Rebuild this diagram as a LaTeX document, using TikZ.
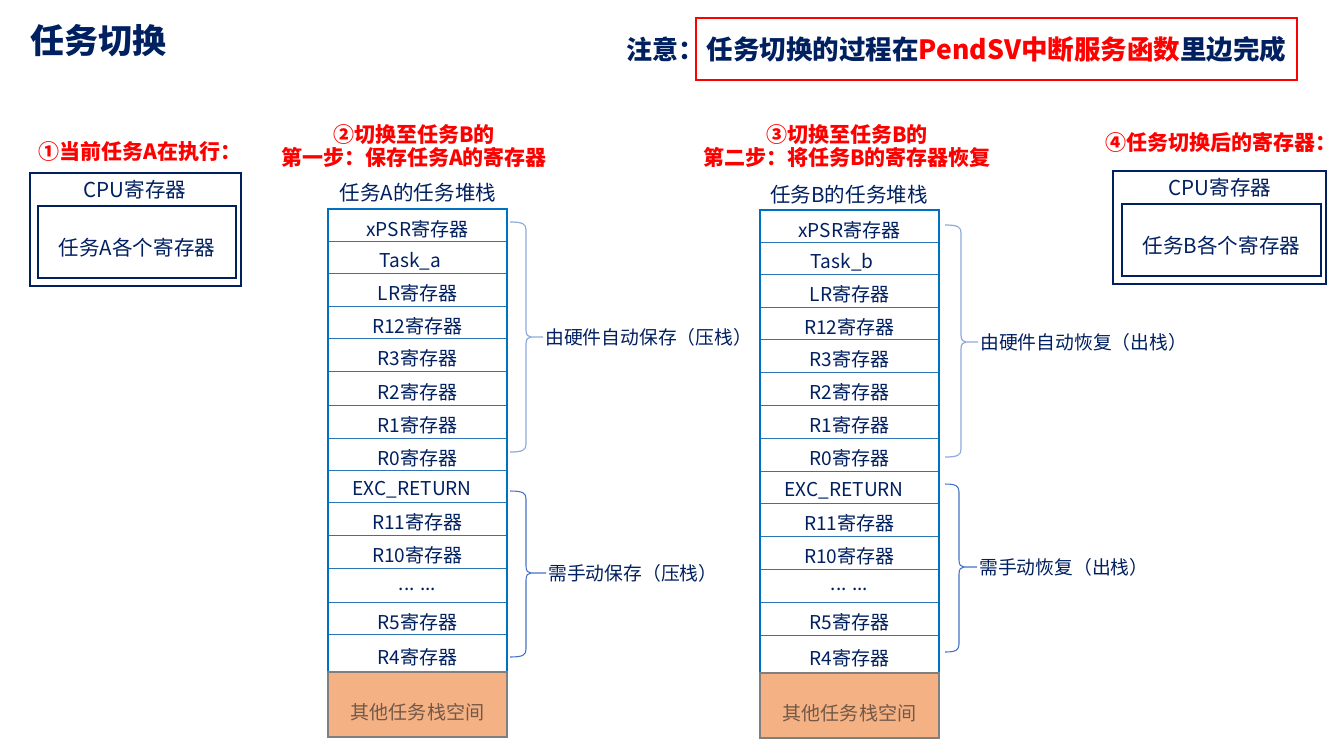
\documentclass[tikz,border=0pt]{standalone}
\usepackage{fontspec}
\setmainfont{Noto Sans CJK SC}
\definecolor{navy}{HTML}{002060}
\definecolor{hred}{HTML}{FF0000}
\definecolor{stackblue}{HTML}{0070C0}
\definecolor{rowblue}{HTML}{2E75B6}
\definecolor{bracelight}{HTML}{8FAADC}
\definecolor{bracedark}{HTML}{4472C4}
\definecolor{orangefill}{HTML}{F4B183}
\definecolor{orangetext}{HTML}{735848}
\definecolor{graybord}{HTML}{7F7F7F}
\newcommand\fs[1]{\fontsize{#1pt}{#1pt}\selectfont}
\newcommand\stackcell[7][]{%
  \node[cellbox, minimum width={(#5-#3)*0.75pt}, minimum height={(#6-#4)*0.75pt}] (#2) at ({(#3+#5)/2},{(#4+#6)/2}) {};
  \node[celltext, #1] (#2t) at (#2.center) {#7};}
\newcommand\regbrace[7]{%
  \draw[#7] (#1,#3) .. controls ({#2-3},#3) and (#2,{#3+2}) .. (#2,{#3+8}) -- (#2,{#4-7}) .. controls (#2,{#4-2}) and ({#2+2},#4) .. ({#2+5},#4) -- (#6.west);
  \draw[#7] ({#2+5},#4) .. controls ({#2+2},#4) and (#2,{#4+2}) .. (#2,{#4+7}) -- (#2,{#5-8}) .. controls (#2,{#5-2}) and ({#2-3},#5) .. (#1,#5);}
\begin{document}
\begin{tikzpicture}[x=0.75pt,y=-0.75pt,
  titletext/.style={font=\bfseries\fs{25.5}, text=navy, inner sep=0},
  redhead/.style={font=\bfseries\fs{15.75}, text=hred, inner sep=0, align=center},
  stackhead/.style={font=\fs{15.4}, text=navy, inner sep=0},
  cellbox/.style={draw=rowblue, line width=0.75pt, inner sep=0, outer sep=0},
  celltext/.style={font=\fs{14.3}, text=navy, inner sep=0, yshift=-3pt},
  stackframe/.style={draw=stackblue, line width=1.5pt},
  othercell/.style={draw=graybord, line width=1.5pt, fill=orangefill, inner sep=0, outer sep=0},
  othertext/.style={font=\fs{14.3}, text=orangetext, inner sep=0, yshift=-6pt},
  bracelab/.style={font=\fs{14.1}, text=navy, inner sep=1.5pt, anchor=west},
  cpubox/.style={draw=navy, line width=1.5pt, inner sep=0},
  cputext/.style={font=\fs{15.4}, text=navy, inner sep=0},
  innertext/.style={cputext, yshift=-4.5pt},
  lightbrace/.style={draw=bracelight, line width=0.9pt},
  darkbrace/.style={draw=bracedark, line width=0.8pt}]
\useasboundingbox[fill=white] (0,0) rectangle (1337,747);

% title and note
\node[titletext, anchor=west] (title) at (30,41) {任务切换};
\node[titletext, font=\bfseries\fs{19.5}, anchor=west] (notelbl) at (626,49) {注意：};
\node[draw=hred, line width=1.5pt, minimum width={601*0.75pt}, minimum height={62*0.75pt}, inner sep=0,
  font=\bfseries\fs{19.9}, text=navy] (note) at (996.5,49) {任务切换的过程在\textcolor{hred}{PendSV中断服务函数}里边完成};

% headings
\node[redhead, anchor=west] (h1) at (38,152) {①当前任务A在执行：};
\node[redhead] (h2) at (414,146) {②切换至任务B的\\[2pt]第一步：保存任务A的寄存器};
\node[redhead] (h3) at (847,146) {③切换至任务B的\\[2pt]第二步：将任务B的寄存器恢复};
\node[redhead, anchor=west] (h4) at (1105,143) {④任务切换后的寄存器：};

% CPU boxes
\node[cpubox, minimum width={211*0.75pt}, minimum height={113*0.75pt}] (cpuA) at (135.5,229.5) {};
\node[cputext] (cpuAlbl) at (135,190) {CPU寄存器};
\node[cpubox, minimum width={198*0.75pt}, minimum height={72*0.75pt}] (regA) at (137,242) {};
\node[innertext] (regAt) at (regA.center) {任务A各个寄存器};
\node[cpubox, minimum width={213*0.75pt}, minimum height={113*0.75pt}] (cpuB) at (1219.5,227.5) {};
\node[cputext] (cpuBlbl) at (1220,188) {CPU寄存器};
\node[cpubox, minimum width={199*0.75pt}, minimum height={72*0.75pt}] (regB) at (1221.5,240) {};
\node[innertext] (regBt) at (regB.center) {任务B各个寄存器};

% stack A
\node[stackhead] (headA) at (418,193) {任务A的任务堆栈};
\stackcell{a1}{328}{209}{507}{241}{xPSR寄存器}
\stackcell[xshift=-5.5pt]{a2}{328}{241}{507}{273}{Task\_a}
\stackcell{a3}{328}{273}{507}{306}{LR寄存器}
\stackcell{a4}{328}{306}{507}{338}{R12寄存器}
\stackcell{a5}{328}{338}{507}{371}{R3寄存器}
\stackcell{a6}{328}{371}{507}{405}{R2寄存器}
\stackcell{a7}{328}{405}{507}{438}{R1寄存器}
\stackcell{a8}{328}{438}{507}{470}{R0寄存器}
\stackcell[xshift=-4pt]{a9}{328}{470}{507}{502}{EXC\_RETURN}
\stackcell{a10}{328}{502}{507}{535}{R11寄存器}
\stackcell{a11}{328}{535}{507}{568}{R10寄存器}
\stackcell{a12}{328}{568}{507}{602}{... ...}
\stackcell{a13}{328}{602}{507}{634}{R5寄存器}
\stackcell{a14}{328}{634}{507}{672}{R4寄存器}
\draw[stackframe] (a1.north west) rectangle (a14.south east);
\node[othercell, minimum width={179*0.75pt}, minimum height={65*0.75pt}] (a15) at (417.5,704.5) {};
\node[othertext] (a15t) at (a15.center) {其他任务栈空间};

% stack B
\node[stackhead] (headB) at (849,195) {任务B的任务堆栈};
\stackcell{b1}{760}{210}{939}{242}{xPSR寄存器}
\stackcell[xshift=-5.5pt]{b2}{760}{242}{939}{274}{Task\_b}
\stackcell{b3}{760}{274}{939}{307}{LR寄存器}
\stackcell{b4}{760}{307}{939}{339}{R12寄存器}
\stackcell{b5}{760}{339}{939}{372}{R3寄存器}
\stackcell{b6}{760}{372}{939}{405}{R2寄存器}
\stackcell{b7}{760}{405}{939}{438}{R1寄存器}
\stackcell{b8}{760}{438}{939}{471}{R0寄存器}
\stackcell[xshift=-4pt]{b9}{760}{471}{939}{503}{EXC\_RETURN}
\stackcell{b10}{760}{503}{939}{536}{R11寄存器}
\stackcell{b11}{760}{536}{939}{569}{R10寄存器}
\stackcell{b12}{760}{569}{939}{602}{... ...}
\stackcell{b13}{760}{602}{939}{635}{R5寄存器}
\stackcell{b14}{760}{635}{939}{673}{R4寄存器}
\draw[stackframe] (b1.north west) rectangle (b14.south east);
\node[othercell, minimum width={179*0.75pt}, minimum height={65*0.75pt}] (b15) at (849.5,705.5) {};
\node[othertext] (b15t) at (b15.center) {其他任务栈空间};

% brace labels
\node[bracelab] (hwA) at (543,337) {由硬件自动保存（压栈）};
\node[bracelab] (swA) at (546,573) {需手动保存（压栈）};
\node[bracelab] (hwB) at (978,342) {由硬件自动恢复（出栈）};
\node[bracelab] (swB) at (977,567) {需手动恢复（出栈）};

% braces
\regbrace{510}{526}{222}{337}{452}{hwA}{lightbrace}
\regbrace{510}{526}{491}{573}{657}{swA}{darkbrace}
\regbrace{945}{961}{225}{342}{457}{hwB}{lightbrace}
\regbrace{945}{959}{484}{567}{652}{swB}{darkbrace}
\end{tikzpicture}
\end{document}
